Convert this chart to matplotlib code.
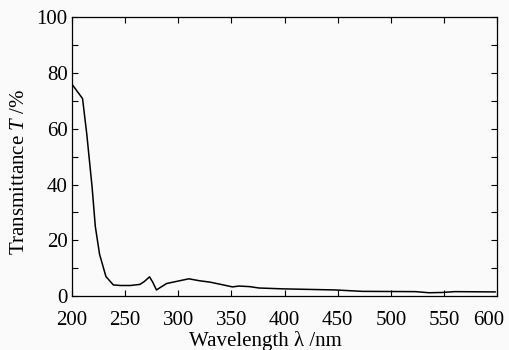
import numpy as np
import matplotlib.pyplot as plt
from matplotlib.ticker import MultipleLocator
from matplotlib.transforms import ScaledTranslation

plt.rcParams['font.family'] = 'Liberation Serif'
plt.rcParams['mathtext.fontset'] = 'custom'
plt.rcParams['mathtext.it'] = 'Liberation Serif:italic'
plt.rcParams['mathtext.rm'] = 'Liberation Serif'

# Transmittance spectrum
wavelength = [200, 210, 214, 219, 222, 226, 232, 239, 246, 255, 264, 268, 273, 276,
              279.5, 284, 289, 300, 310, 320, 330, 340, 351, 357, 367, 376,
              398, 448, 473, 523, 536, 548, 560, 598]
transmittance = [76, 70.8, 58, 39, 25, 15, 7, 4, 3.8, 3.8, 4.2, 5.2, 6.9, 5.0,
                 2.2, 3.3, 4.5, 5.4, 6.2, 5.5, 5.0, 4.2, 3.3, 3.6, 3.4, 2.9,
                 2.6, 2.2, 1.7, 1.6, 1.2, 1.3, 1.6, 1.5]

fig = plt.figure(figsize=(5.1, 3.5), dpi=100, facecolor='#fafafa')
ax = fig.add_axes([0.141, 0.154, 0.834, 0.797])
ax.set_facecolor('#fafafa')

ax.plot(wavelength, transmittance, color='black', lw=1.1)

ax.set_xlim(200, 600)
ax.set_ylim(0, 100)
ax.set_xticks([200, 250, 300, 350, 400, 450, 500, 550, 600])
ax.yaxis.set_major_locator(MultipleLocator(20))
ax.yaxis.set_minor_locator(MultipleLocator(10))
ax.tick_params(which='both', direction='in', top=True, right=True,
               labelsize=15, width=0.8, length=4)
ax.tick_params(axis='x', pad=11)
ax.tick_params(axis='y', pad=3)
for s in ax.spines.values():
    s.set_linewidth(0.9)

ax.set_xlabel('Wavelength λ /nm', fontsize=15)
ax.set_ylabel('Transmittance $T$ /%', fontsize=15)
ax.xaxis.set_label_coords(0.455, -0.125)
ax.yaxis.set_label_coords(-0.1, 0.445)

# nudge the last x label inward so it fits like in the original
fig.canvas.draw()
for lab in ax.get_xticklabels():
    if lab.get_text() == '600':
        lab.set_transform(lab.get_transform() + ScaledTranslation(-6 / 72, 0, fig.dpi_scale_trans))

fig.savefig('out.png', dpi=100, facecolor=fig.get_facecolor())
